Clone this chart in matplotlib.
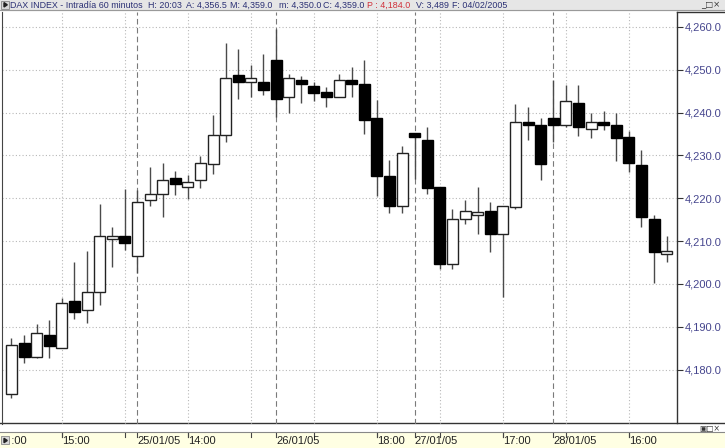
import matplotlib
matplotlib.use('Agg')
import matplotlib.pyplot as plt
import numpy as np
from matplotlib.transforms import blended_transform_factory
from matplotlib.ticker import FuncFormatter

plt.rcParams['font.family'] = ['Liberation Sans', 'DejaVu Sans']

# velas horarias DAX (24/01/05 11:00 -> 28/01/05 19:00)
opens  = [4174.2, 4186.1, 4182.9, 4188.0, 4185.0, 4196.0, 4194.0, 4198.1, 4210.6, 4211.1,
          4206.5, 4219.5, 4221.1, 4224.7, 4222.6, 4224.2, 4228.1, 4234.7, 4248.7, 4247.2,
          4247.2, 4252.4, 4243.6, 4247.7, 4246.2, 4244.8, 4243.6, 4247.7, 4246.8, 4238.8,
          4225.3, 4218.1, 4235.2, 4233.7, 4222.6, 4204.6, 4215.1, 4216.0, 4217.0, 4211.6,
          4218.0, 4237.8, 4237.2, 4238.8, 4237.0, 4242.2, 4236.1, 4237.8, 4237.0, 4234.2,
          4227.7, 4215.1, 4207.1]
closes = [4185.7, 4182.9, 4188.5, 4185.4, 4195.6, 4193.4, 4198.1, 4211.1, 4211.1, 4209.6,
          4219.1, 4221.1, 4224.2, 4223.3, 4223.7, 4228.2, 4234.7, 4248.2, 4247.2, 4248.2,
          4245.2, 4243.1, 4248.2, 4246.6, 4244.7, 4243.6, 4247.7, 4246.6, 4238.2, 4225.1,
          4218.1, 4230.6, 4234.2, 4222.5, 4204.6, 4215.1, 4217.0, 4216.7, 4211.6, 4218.1,
          4237.8, 4237.0, 4228.1, 4237.0, 4242.7, 4236.6, 4237.8, 4237.0, 4234.1, 4228.2,
          4215.6, 4207.5, 4207.6]
highs  = [4187.3, 4188.0, 4190.6, 4191.5, 4196.8, 4205.1, 4207.6, 4218.6, 4213.3, 4222.1,
          4222.0, 4227.3, 4228.2, 4226.4, 4225.4, 4229.8, 4239.4, 4256.3, 4254.8, 4251.2,
          4253.8, 4259.6, 4249.1, 4248.6, 4247.2, 4246.0, 4249.1, 4250.7, 4252.4, 4242.9,
          4228.9, 4232.1, 4235.2, 4236.6, 4222.6, 4217.6, 4219.7, 4222.6, 4219.1, 4218.1,
          4241.9, 4241.3, 4238.8, 4247.7, 4246.4, 4246.4, 4239.9, 4240.4, 4239.9, 4235.7,
          4231.2, 4216.2, 4211.1]
lows   = [4173.3, 4181.5, 4182.6, 4182.6, 4185.0, 4191.9, 4190.9, 4195.0, 4204.0, 4208.0,
          4202.6, 4218.1, 4215.6, 4220.7, 4219.9, 4222.5, 4225.6, 4233.1, 4243.1, 4243.6,
          4244.0, 4239.0, 4239.8, 4242.2, 4242.7, 4241.2, 4243.6, 4243.6, 4235.1, 4220.5,
          4216.6, 4216.6, 4224.6, 4221.1, 4203.4, 4203.4, 4214.1, 4211.6, 4207.5, 4197.0,
          4217.6, 4233.5, 4224.2, 4233.1, 4236.6, 4234.5, 4234.1, 4235.9, 4228.6, 4226.1,
          4213.2, 4200.1, 4205.1]

# eje de tiempo
hour_ticks  = [4, 9, 14, 19, 24, 29, 34, 39, 44, 49]
day_ticks   = [10, 21, 32, 43]
tick_pos    = [-1, 4, 10, 14, 21, 29, 32, 39, 43, 49]
tick_labels = ['10:00', '15:00', '25/01/05', '14:00', '26/01/05', '18:00', '27/01/05',
               '17:00', '28/01/05', '16:00']
y_ticks = [4180, 4190, 4200, 4210, 4220, 4230, 4240, 4250, 4260]

# cabecera
head_text = ['DAX INDEX - Intradía 60 minutos', 'H: 20:03', 'A: 4,356.5', 'M: 4,359.0',
             'm: 4,350.0', 'C: 4,359.0', 'P : 4,184.0', 'V: 3,489', 'F: 04/02/2005']
head_x    = [10, 148, 186, 230, 279, 323, 367, 416, 452]
head_col  = ['#2a2f74'] * 6 + ['#d0303a'] + ['#2a2f74'] * 2

W, H = 725, 448
fig = plt.figure(figsize=(W / 100, H / 100), dpi=100)

def px(l, t, r, b):
    return [l / W, 1 - b / H, (r - l) / W, (b - t) / H]

def arrow_icon(a, x0, y0):
    # pequeño boton con flecha (como en la ventana original)
    a.add_patch(plt.Rectangle((x0, y0), 8, 8, facecolor='#d8d8d8', edgecolor='#8a8a8a',
                              lw=0.6, zorder=5))
    a.add_patch(plt.Polygon([[x0 + 2.5, y0 + 1.8], [x0 + 2.5, y0 + 6.2], [x0 + 5.8, y0 + 4]],
                            color='#222222', zorder=6))

# fondo: barra de titulo, franja amarilla, bordes
bg = fig.add_axes([0, 0, 1, 1], zorder=0)
bg.set_xlim(0, W); bg.set_ylim(H, 0); bg.axis('off')
bg.add_patch(plt.Rectangle((0, 0), W, 10, color='#e6e6e6'))
bg.plot([0, W], [10, 10], color='#9a9a9a', lw=0.8)
bg.add_patch(plt.Rectangle((0, 433), W, 15, color='#ffffe3'))
bg.plot([0, W], [423.5, 423.5], color='#333333', lw=1)
bg.plot([0, W], [432.5, 432.5], color='#888888', lw=0.8)
bg.plot([677, W], [12, 12], color='#333333', lw=1)
bg.plot([677, 677], [12, 423.5], color='#333333', lw=1)
for txt, hx, col in zip(head_text, head_x, head_col):
    bg.text(hx, 5.2, txt, color=col, fontsize=6.4, va='center')
bg.text(720, 5, '_□×', fontsize=6, va='center', ha='right', color='#333333',
        family='DejaVu Sans')
bg.text(720, 428, '▣□×', fontsize=5.5, va='center', ha='right', color='#333333',
        family='DejaVu Sans')

ax = fig.add_axes(px(2, 12, 677, 423.5), zorder=1)
ax.set_facecolor('none')
x = np.arange(len(opens))
o = np.array(opens); c = np.array(closes)
up = c >= o

for h in y_ticks:
    ax.axhline(h, color='#b8b8b8', lw=0.8, ls=(0, (1, 2)), zorder=0)
for t in hour_ticks:
    ax.axvline(t, color='#b8b8b8', lw=0.8, ls=(0, (1, 2)), zorder=0)
for t in day_ticks:
    ax.axvline(t, color='#7a7a7a', lw=0.8, ls=(0, (5, 3)), zorder=0)

ax.vlines(x, lows, highs, color='#4a4a4a', lw=1, zorder=2)
body = np.maximum(np.abs(c - o), 0.5)
ax.bar(x[up], body[up], bottom=o[up], width=0.88, facecolor='white',
       edgecolor='#222222', lw=1, zorder=3)
ax.bar(x[~up], body[~up], bottom=c[~up], width=0.88, facecolor='black',
       edgecolor='black', lw=1, zorder=3)

ax.set_xlim(-0.754, 52.82)
ax.set_ylim(4167.4, 4263.5)
ax.yaxis.tick_right()
ax.set_yticks(y_ticks)
ax.yaxis.set_major_formatter(FuncFormatter(lambda v, p: '{:,.1f}'.format(v)))
ax.tick_params(axis='y', length=4, width=0.8, pad=1.5, labelsize=8,
               labelcolor='#46468e', color='#333333')
ax.set_xticks([])
for s in ['top', 'bottom', 'right']:
    ax.spines[s].set_visible(False)
ax.spines['left'].set_color('#444444')

# etiquetas del eje de tiempo en la franja inferior
tr = blended_transform_factory(ax.transData, fig.transFigure)
for t in tick_pos + hour_ticks:
    ax.plot([t, t], [1 - 433 / H, 1 - 436.5 / H], color='#444444', lw=0.8,
            transform=tr, clip_on=False)
for t, lab in zip(tick_pos, tick_labels):
    ax.text(t, 1 - 441 / H, lab, transform=tr, fontsize=8, va='center', ha='left',
            color='#222222', clip_on=False)

# iconos encima de todo
top = fig.add_axes([0, 0, 1, 1], zorder=3)
top.set_xlim(0, W); top.set_ylim(H, 0); top.axis('off')
top.patch.set_alpha(0)
top.add_patch(plt.Rectangle((0, 434), 10.5, 14, color='#ffffe3', zorder=4))
arrow_icon(top, 1.5, 0.8)
arrow_icon(top, 1.5, 436.5)

fig.savefig('out.png', dpi=100)
